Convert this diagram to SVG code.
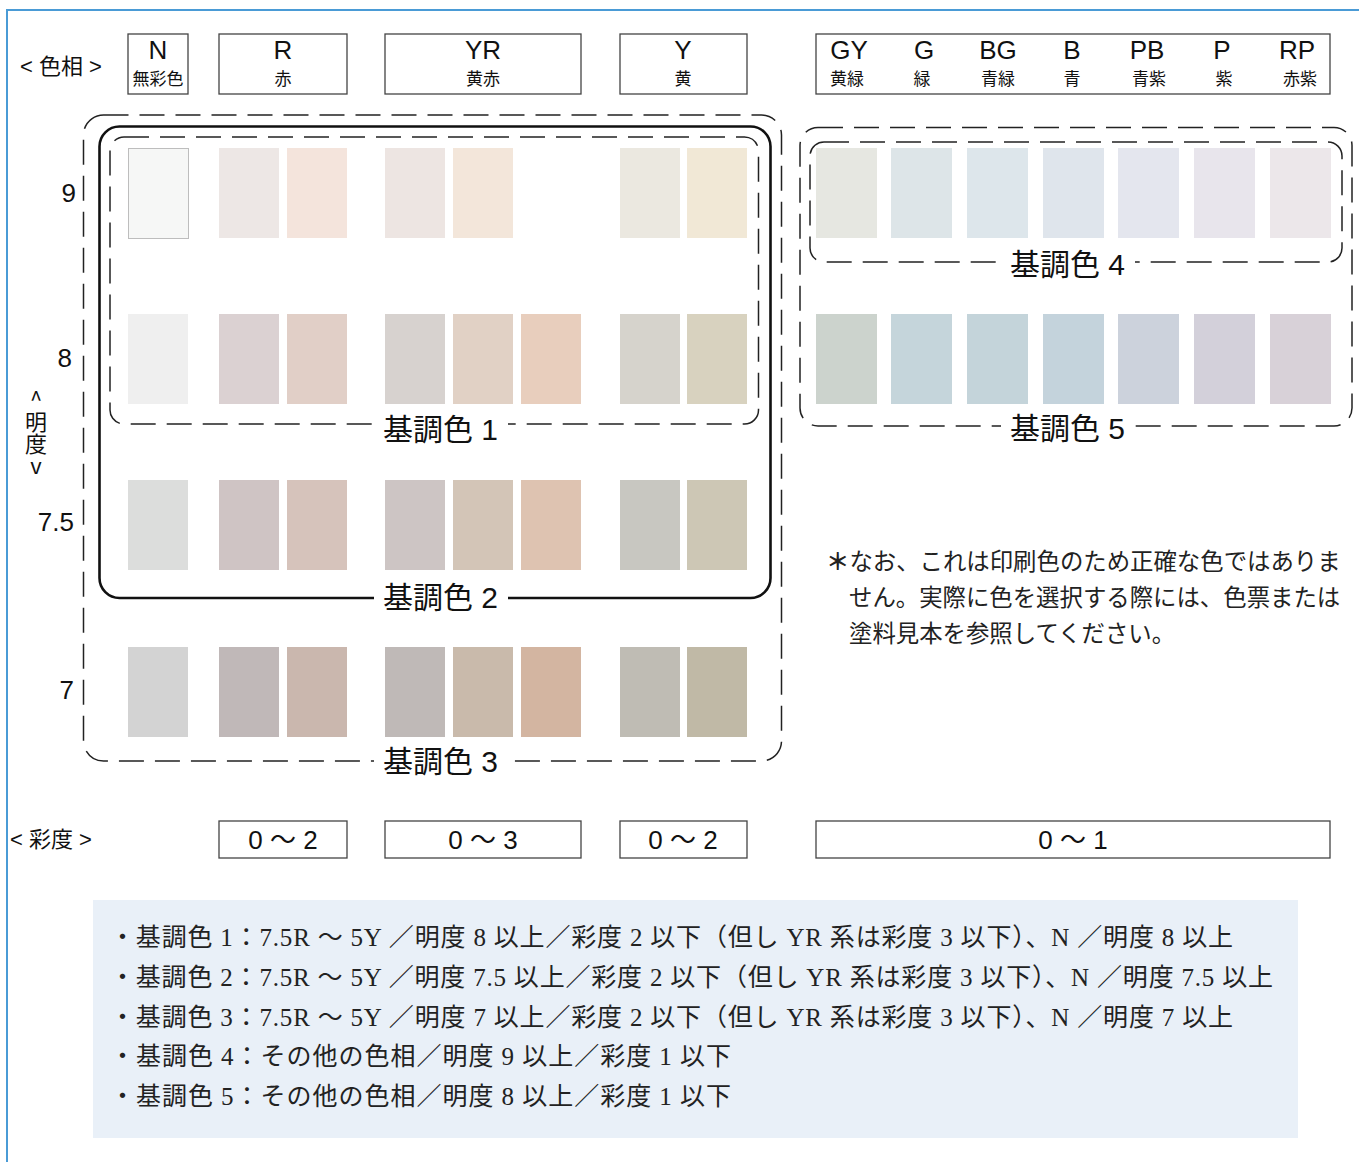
<svg xmlns="http://www.w3.org/2000/svg" width="1359" height="1162" viewBox="0 0 1359 1162">
<style>
.frame{fill:none;stroke:#4a9bd6;stroke-width:2}
.hbox{fill:#fff;stroke:#444;stroke-width:1.3}
.ht{fill:#111;text-anchor:middle}
.hl{font-family:"Liberation Sans Narrow","Liberation Sans","Noto Sans CJK JP",sans-serif;font-size:26px}
.hs{font-family:"Noto Sans CJK JP",sans-serif;font-size:17px}
.ax{font-family:"Liberation Sans","Noto Sans CJK JP",sans-serif;font-size:26px;fill:#111;text-anchor:end}
.lb{font-family:"Liberation Sans","Noto Sans CJK JP",sans-serif;font-size:22px;fill:#111}
.vt{font-family:"Noto Sans CJK JP",sans-serif;font-size:22px;fill:#111;writing-mode:vertical-rl;text-orientation:upright}
.dash{fill:none;stroke:#222;stroke-width:1.5;stroke-dasharray:25 11}
.solid{fill:none;stroke:#111;stroke-width:2.6}
.gl{font-family:"Liberation Sans","Noto Sans CJK JP",sans-serif;font-size:30px;fill:#111}
.gap{fill:#fff}
.ch{font-family:"Liberation Sans Narrow","Liberation Sans","Noto Sans CJK JP",sans-serif;font-size:26px;fill:#111;text-anchor:middle}
.note{font-family:"Liberation Serif","Noto Sans CJK JP",serif;font-size:23.4px;fill:#222}
.bt{font-family:"Liberation Serif","Noto Sans CJK JP",serif;font-size:25px;fill:#222}
</style>
<rect width="1359" height="1162" fill="#fff"/>
<path class="frame" d="M7,1162 V10 H1359"/>

<g id="hue-label"><text class="lb" x="20" y="74">&lt; 色相 &gt;</text></g>
<g id="hue-N"><rect class="hbox" x="128" y="34" width="60" height="60"/><text class="ht"><tspan class="hl" x="158" y="59">N</tspan><tspan class="hs" x="158" y="84.5">無彩色</tspan></text></g>
<g id="hue-R"><rect class="hbox" x="219" y="34" width="128" height="60"/><text class="ht"><tspan class="hl" x="283" y="59">R</tspan><tspan class="hs" x="283" y="84.5">赤</tspan></text></g>
<g id="hue-YR"><rect class="hbox" x="385" y="34" width="196" height="60"/><text class="ht"><tspan class="hl" x="483" y="59">YR</tspan><tspan class="hs" x="483" y="84.5">黄赤</tspan></text></g>
<g id="hue-Y"><rect class="hbox" x="620" y="34" width="127" height="60"/><text class="ht"><tspan class="hl" x="683" y="59">Y</tspan><tspan class="hs" x="683" y="84.5">黄</tspan></text></g>
<g id="hue-others"><rect class="hbox" x="816" y="34" width="514" height="60"/>
<text class="ht"><tspan class="hl" x="849" y="59">GY</tspan><tspan class="hs" x="847" y="84.5">黄緑</tspan></text>
<text class="ht"><tspan class="hl" x="924" y="59">G</tspan><tspan class="hs" x="922" y="84.5">緑</tspan></text>
<text class="ht"><tspan class="hl" x="998" y="59">BG</tspan><tspan class="hs" x="998" y="84.5">青緑</tspan></text>
<text class="ht"><tspan class="hl" x="1072" y="59">B</tspan><tspan class="hs" x="1072" y="84.5">青</tspan></text>
<text class="ht"><tspan class="hl" x="1147" y="59">PB</tspan><tspan class="hs" x="1149" y="84.5">青紫</tspan></text>
<text class="ht"><tspan class="hl" x="1222" y="59">P</tspan><tspan class="hs" x="1224" y="84.5">紫</tspan></text>
<text class="ht"><tspan class="hl" x="1297" y="59">RP</tspan><tspan class="hs" x="1300" y="84.5">赤紫</tspan></text>
</g>

<g id="value-axis">
<text class="ax" x="76" y="202">9</text>
<text class="ax" x="72" y="367">8</text>
<text class="ax" x="74" y="531">7.5</text>
<text class="ax" x="74" y="699">7</text>
<text class="vt" x="36" y="389">^明度v</text>
</g>

<g id="swatches">
<rect x="128.5" y="148.5" width="60" height="90" fill="#f6f7f6" stroke="#bdbdbd" stroke-width="1"/>
<rect x="219" y="148" width="60" height="90" fill="#ede7e5"/>
<rect x="287" y="148" width="60" height="90" fill="#f4e4dc"/>
<rect x="385" y="148" width="60" height="90" fill="#ede5e2"/>
<rect x="453" y="148" width="60" height="90" fill="#f3e6da"/>
<rect x="620" y="148" width="60" height="90" fill="#ebe8e0"/>
<rect x="687" y="148" width="60" height="90" fill="#f1e8d6"/>
<rect x="128" y="314" width="60" height="90" fill="#efefef"/>
<rect x="219" y="314" width="60" height="90" fill="#dbd1d2"/>
<rect x="287" y="314" width="60" height="90" fill="#e1cfc7"/>
<rect x="385" y="314" width="60" height="90" fill="#d7d2cf"/>
<rect x="453" y="314" width="60" height="90" fill="#e1d1c5"/>
<rect x="521" y="314" width="60" height="90" fill="#e8cebd"/>
<rect x="620" y="314" width="60" height="90" fill="#d6d3cc"/>
<rect x="687" y="314" width="60" height="90" fill="#d8d2bf"/>
<rect x="128" y="480" width="60" height="90" fill="#dcdddc"/>
<rect x="219" y="480" width="60" height="90" fill="#cfc4c4"/>
<rect x="287" y="480" width="60" height="90" fill="#d6c3bb"/>
<rect x="385" y="480" width="60" height="90" fill="#cdc5c4"/>
<rect x="453" y="480" width="60" height="90" fill="#d3c5b7"/>
<rect x="521" y="480" width="60" height="90" fill="#dec3b1"/>
<rect x="620" y="480" width="60" height="90" fill="#c8c7c1"/>
<rect x="687" y="480" width="60" height="90" fill="#cdc7b5"/>
<rect x="128" y="647" width="60" height="90" fill="#d3d3d3"/>
<rect x="219" y="647" width="60" height="90" fill="#c0b8b8"/>
<rect x="287" y="647" width="60" height="90" fill="#cab7ae"/>
<rect x="385" y="647" width="60" height="90" fill="#bfb9b7"/>
<rect x="453" y="647" width="60" height="90" fill="#c9baab"/>
<rect x="521" y="647" width="60" height="90" fill="#d3b5a1"/>
<rect x="620" y="647" width="60" height="90" fill="#bfbcb4"/>
<rect x="687" y="647" width="60" height="90" fill="#c0b9a6"/>
<rect x="816" y="148" width="61" height="90" fill="#e6e7e1"/>
<rect x="891" y="148" width="61" height="90" fill="#dde5e8"/>
<rect x="967" y="148" width="61" height="90" fill="#dde6eb"/>
<rect x="1043" y="148" width="61" height="90" fill="#dfe5ec"/>
<rect x="1118" y="148" width="61" height="90" fill="#e4e6ee"/>
<rect x="1194" y="148" width="61" height="90" fill="#e8e5ec"/>
<rect x="1270" y="148" width="61" height="90" fill="#ece7ea"/>
<rect x="816" y="314" width="61" height="90" fill="#ccd3cd"/>
<rect x="891" y="314" width="61" height="90" fill="#c5d5db"/>
<rect x="967" y="314" width="61" height="90" fill="#c4d4da"/>
<rect x="1043" y="314" width="61" height="90" fill="#c4d3dc"/>
<rect x="1118" y="314" width="61" height="90" fill="#ccd2dc"/>
<rect x="1194" y="314" width="61" height="90" fill="#d3d0da"/>
<rect x="1270" y="314" width="61" height="90" fill="#d8d1d8"/>
</g>

<g id="group-boxes">
<rect class="dash" x="83.5" y="115" width="698" height="646" rx="20"/>
<rect class="solid" x="99.5" y="126.5" width="671" height="471.5" rx="20"/>
<rect class="dash" x="110" y="137" width="648.5" height="287" rx="14"/>
<rect class="dash" x="800" y="127.5" width="552" height="298.5" rx="18"/>
<rect class="dash" x="810" y="142" width="532" height="120" rx="14"/>
</g>

<g id="group-labels">
<rect class="gap" x="374" y="418" width="134" height="14"/>
<text class="gl" x="383" y="440">基調色 1</text>
<rect class="gap" x="374" y="590" width="134" height="16"/>
<text class="gl" x="383" y="608">基調色 2</text>
<rect class="gap" x="374" y="754" width="134" height="16"/>
<text class="gl" x="383" y="772">基調色 3</text>
<rect class="gap" x="1001" y="255" width="134" height="14"/>
<text class="gl" x="1010" y="275">基調色 4</text>
<rect class="gap" x="1001" y="419" width="134" height="14"/>
<text class="gl" x="1010" y="439">基調色 5</text>
</g>

<g id="note">
<text class="note" x="826" y="570"><tspan font-weight="bold">＊</tspan>なお、これは印刷色のため正確な色ではありま</text>
<text class="note" x="849" y="606">せん。実際に色を選択する際には、色票または</text>
<text class="note" x="849" y="642">塗料見本を参照してください。</text>
</g>

<g id="chroma">
<text class="lb" x="10" y="847">&lt; 彩度 &gt;</text>
<rect class="hbox" x="219" y="821" width="128" height="37"/><text class="ch" x="283" y="849">0 ～ 2</text>
<rect class="hbox" x="385" y="821" width="196" height="37"/><text class="ch" x="483" y="849">0 ～ 3</text>
<rect class="hbox" x="620" y="821" width="127" height="37"/><text class="ch" x="683" y="849">0 ～ 2</text>
<rect class="hbox" x="816" y="821" width="514" height="37"/><text class="ch" x="1073" y="849">0 ～ 1</text>
</g>

<g id="legend">
<rect x="93" y="900" width="1205" height="238" fill="#e9f0f8"/>
<text class="bt" x="110" y="946" textLength="1123" lengthAdjust="spacing">・基調色 1：7.5R ～ 5Y ／明度 8 以上／彩度 2 以下（但し YR 系は彩度 3 以下）、N ／明度 8 以上</text>
<text class="bt" x="110" y="986" textLength="1163" lengthAdjust="spacing">・基調色 2：7.5R ～ 5Y ／明度 7.5 以上／彩度 2 以下（但し YR 系は彩度 3 以下）、N ／明度 7.5 以上</text>
<text class="bt" x="110" y="1026" textLength="1123" lengthAdjust="spacing">・基調色 3：7.5R ～ 5Y ／明度 7 以上／彩度 2 以下（但し YR 系は彩度 3 以下）、N ／明度 7 以上</text>
<text class="bt" x="110" y="1065" textLength="621" lengthAdjust="spacing">・基調色 4：その他の色相／明度 9 以上／彩度 1 以下</text>
<text class="bt" x="110" y="1105" textLength="621" lengthAdjust="spacing">・基調色 5：その他の色相／明度 8 以上／彩度 1 以下</text>
</g>
</svg>
